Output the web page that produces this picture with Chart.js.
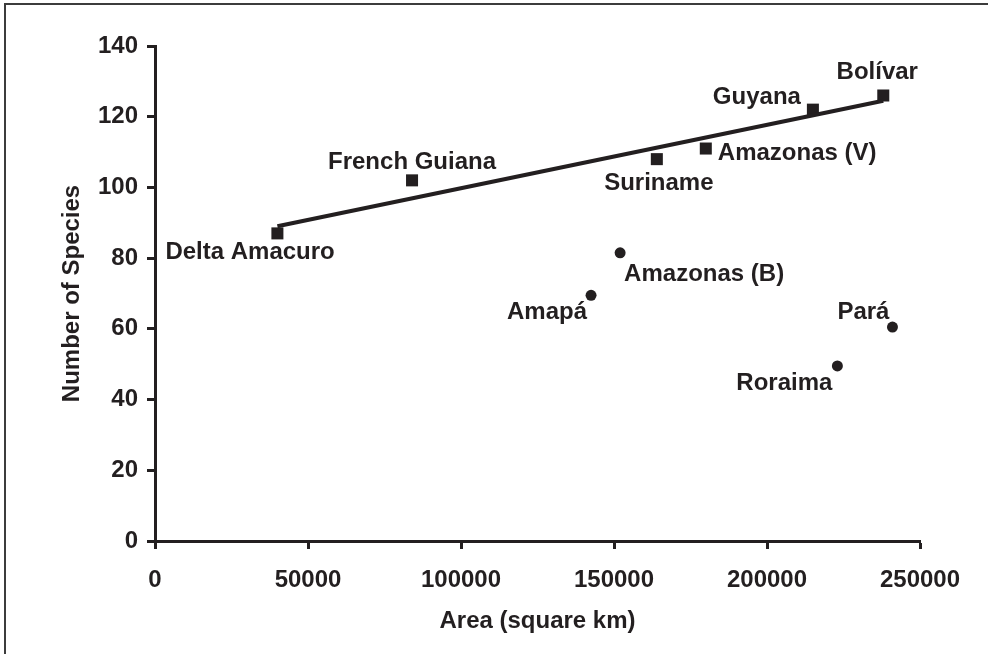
<!DOCTYPE html>
<html>
<head>
<meta charset="utf-8">
<script src="https://cdn.jsdelivr.net/npm/chart.js@4/dist/chart.umd.min.js"></script>
<style>
  html, body { margin: 0; padding: 0; background: #fff; overflow: hidden; }
  #wrap  { position: relative; width: 988px; height: 654px; }
  #frame {
    position: absolute; left: 4px; top: 3px; width: 1000px; height: 700px;
    border-top: 2px solid #3c3c3c; border-left: 2px solid #3c3c3c;
    pointer-events: none;
  }
  canvas { position: absolute; left: 0; top: 0; }
</style>
</head>
<body>
<div id="wrap">
  <canvas id="speciesChart" width="988" height="654"></canvas>
  <div id="frame"></div>
</div>
<script>
// ----------------------------------------------------------------
// Species count vs. area — Guiana Shield regions
// ----------------------------------------------------------------

// squares: regions on the fitted line
const squareNames   = ["Delta Amacuro", "French Guiana", "Suriname", "Amazonas (V)", "Guyana", "Bolívar"];
const squareArea    = [40000, 84000, 164000, 180000, 215000, 238000];
const squareSpecies = [87, 102, 108, 111, 122, 126];

// circles: Brazilian states, off the line
const circleNames   = ["Amapá", "Amazonas (B)", "Roraima", "Pará"];
const circleArea    = [142500, 152000, 223000, 241000];
const circleSpecies = [69.5, 81.5, 49.5, 60.5];

// trend line end points
const trendArea    = [40000, 238000];
const trendSpecies = [89, 124.5];

// axis ticks
const xTicks = [0, 50000, 100000, 150000, 200000, 250000];
const yTicks = [0, 20, 40, 60, 80, 100, 120, 140];

// where each point's name sits, relative to the marker
const LABEL_PLACE = {
  "Delta Amacuro": { dx: -112, dy: 19,  align: "left"   },
  "French Guiana": { dx: 0,    dy: -18, align: "center" },
  "Suriname":      { dx: 2,    dy: 24,  align: "center" },
  "Amazonas (V)":  { dx: 12,   dy: 5,   align: "left"   },
  "Guyana":        { dx: -12,  dy: -12, align: "right"  },
  "Bolívar":       { dx: -6,   dy: -23, align: "center" },
  "Amapá":         { dx: -4,   dy: 17,  align: "right"  },
  "Amazonas (B)":  { dx: 4,    dy: 22,  align: "left"   },
  "Roraima":       { dx: -5,   dy: 17,  align: "right"  },
  "Pará":          { dx: -3,   dy: -15, align: "right"  },
};

const INK  = "#231f20";
const FONT = { family: "'Liberation Sans', Arial, sans-serif", size: 24, weight: "bold" };

const toPoints = (xs, ys) => xs.map((x, i) => ({ x, y: ys[i] }));

// draws the region names next to their markers
const pointLabels = {
  id: "pointLabels",
  afterDatasetsDraw(chart) {
    const ctx = chart.ctx;
    ctx.save();
    ctx.font = `${FONT.weight} ${FONT.size}px ${FONT.family}`;
    ctx.fillStyle = INK;
    ctx.textBaseline = "middle";
    chart.data.datasets.forEach((ds, di) => {
      if (!ds.names) return;
      const meta = chart.getDatasetMeta(di);
      meta.data.forEach((pt, i) => {
        const name  = ds.names[i];
        const place = LABEL_PLACE[name] || { dx: 8, dy: 0, align: "left" };
        ctx.textAlign = place.align;
        ctx.fillText(name, pt.x + place.dx, pt.y + place.dy);
      });
    });
    ctx.restore();
  },
};

new Chart(document.getElementById("speciesChart").getContext("2d"), {
  type: "scatter",
  data: {
    datasets: [
      {
        label: "trend",
        data: toPoints(trendArea, trendSpecies),
        showLine: true,
        borderColor: INK,
        borderWidth: 4,
        pointRadius: 0,
        fill: false,
      },
      {
        label: "squares",
        names: squareNames,
        data: toPoints(squareArea, squareSpecies),
        pointStyle: "rect",
        pointRadius: 8.5,
        backgroundColor: INK,
        borderWidth: 0,
      },
      {
        label: "circles",
        names: circleNames,
        data: toPoints(circleArea, circleSpecies),
        pointStyle: "circle",
        pointRadius: 5.5,
        backgroundColor: INK,
        borderWidth: 0,
      },
    ],
  },
  options: {
    responsive: false,
    animation: false,
    devicePixelRatio: 1,
    layout: { padding: { top: 46, right: 68, bottom: 0, left: 0 } },
    plugins: {
      legend:  { display: false },
      tooltip: { enabled: false },
    },
    scales: {
      x: {
        type: "linear",
        min: 0,
        max: 250000,
        afterBuildTicks: (s) => { s.ticks = xTicks.map((v) => ({ value: v })); },
        afterFit: (s) => { s.height = 113; },
        border: { display: true, color: INK, width: 3 },
        grid: { drawOnChartArea: false, drawTicks: true, tickLength: 8, tickColor: INK, tickWidth: 3 },
        ticks: { color: INK, font: FONT, padding: 17, maxRotation: 0, callback: (v) => String(v) },
        title: { display: true, text: "Area (square km)", color: INK, font: FONT, padding: { top: 0, bottom: 18 } },
      },
      y: {
        type: "linear",
        min: 0,
        max: 140,
        afterBuildTicks: (s) => { s.ticks = yTicks.map((v) => ({ value: v })); },
        afterFit: (s) => { s.width = 155; },
        border: { display: true, color: INK, width: 3 },
        grid: { drawOnChartArea: false, drawTicks: true, tickLength: 8, tickColor: INK, tickWidth: 3 },
        ticks: { color: INK, font: FONT, padding: 9, callback: (v) => String(v) },
        title: { display: true, text: "Number of Species", color: INK, font: FONT, padding: { top: 58, bottom: 0 } },
      },
    },
  },
  plugins: [pointLabels],
});
</script>
</body>
</html>
